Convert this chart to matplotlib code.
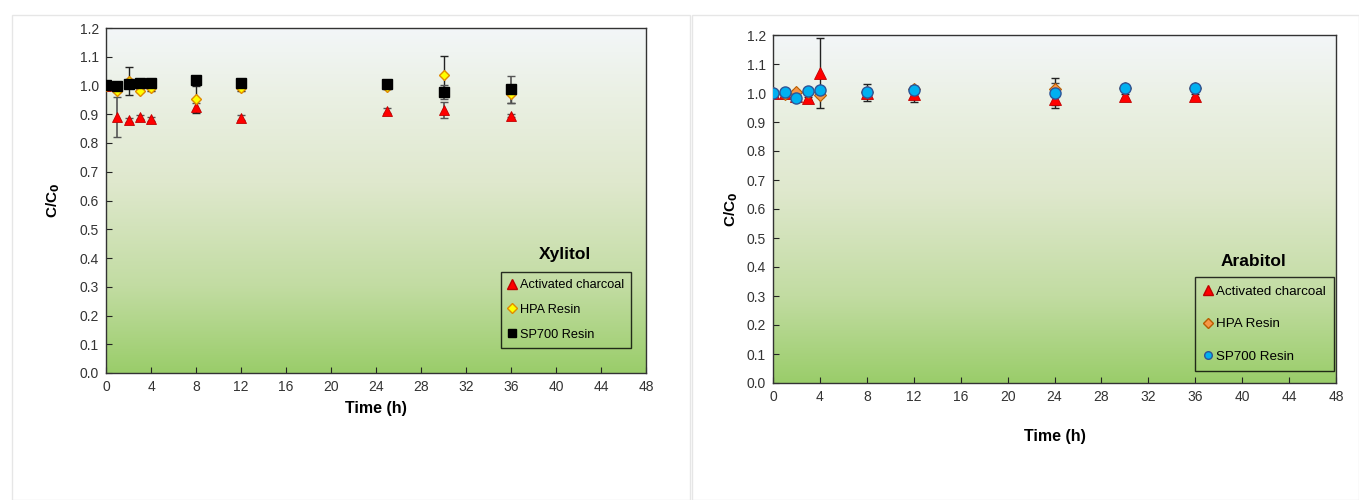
import matplotlib
matplotlib.use("Agg")
import matplotlib.pyplot as plt
import numpy as np
from matplotlib.colors import LinearSegmentedColormap
from matplotlib.patches import Rectangle
from matplotlib.lines import Line2D

plt.rcParams['font.family'] = ['Liberation Sans', 'DejaVu Sans']

# ---------------- Data ----------------
# Xylitol
xy_t_ac = [0, 1, 2, 3, 4, 8, 12, 25, 30, 36]
xy_ac = [1.0, 0.89, 0.88, 0.89, 0.883, 0.925, 0.888, 0.913, 0.915, 0.895]
xy_ac_err = [0.005, 0.07, 0.008, 0.006, 0.006, 0.015, 0.008, 0.008, 0.027, 0.006]
xy_t_hpa = [0, 1, 2, 3, 4, 8, 12, 25, 30, 36]
xy_hpa = [1.0, 0.982, 1.015, 0.982, 0.99, 0.952, 0.992, 0.995, 1.036, 0.969]
xy_hpa_err = [0.004, 0.005, 0.048, 0.006, 0.008, 0.047, 0.01, 0.006, 0.065, 0.03]
xy_t_sp = [0, 1, 2, 3, 4, 8, 12, 25, 30, 36]
xy_sp = [1.002, 0.997, 1.004, 1.008, 1.01, 1.02, 1.008, 1.004, 0.978, 0.987]
xy_sp_err = [0.003, 0.004, 0.005, 0.004, 0.004, 0.005, 0.005, 0.004, 0.025, 0.047]

# Arabitol
ar_t_ac = [0, 1, 2, 3, 4, 8, 12, 24, 30, 36]
ar_ac = [1.0, 1.0, 0.99, 0.982, 1.068, 1.0, 0.997, 0.978, 0.99, 0.991]
ar_ac_err = [0.004, 0.004, 0.008, 0.005, 0.12, 0.01, 0.028, 0.02, 0.006, 0.006]
ar_t_hpa = [0, 1, 2, 3, 4, 8, 12, 24, 30, 36]
ar_hpa = [1.0, 0.997, 1.004, 1.004, 0.993, 1.005, 1.015, 1.013, 1.017, 1.016]
ar_hpa_err = [0.004, 0.004, 0.006, 0.004, 0.006, 0.01, 0.01, 0.02, 0.005, 0.005]
ar_t_sp = [0, 1, 2, 3, 4, 8, 12, 24, 30, 36]
ar_sp = [1.001, 1.004, 0.984, 1.007, 1.009, 1.002, 1.009, 1.0, 1.016, 1.018]
ar_sp_err = [0.004, 0.004, 0.008, 0.004, 0.006, 0.03, 0.012, 0.053, 0.005, 0.005]

labels = ["Activated charcoal", "HPA Resin", "SP700 Resin"]
xticks = list(range(0, 49, 4))
yticks = [round(0.1 * i, 1) for i in range(13)]

# ---------------- Figure ----------------
fig = plt.figure(figsize=(13.59, 5.0), dpi=100)
W, H = 1359, 500

# panel frames
for (x0, x1) in [(12, 690), (692, 1359)]:
    fig.patches.append(Rectangle((x0 / W, 0), (x1 - x0) / W, (H - 15) / H,
                                 transform=fig.transFigure, fill=False,
                                 edgecolor='#e6e6e6', linewidth=1.0))

cmap = LinearSegmentedColormap.from_list(
    "bg", [(0.0, '#9acd6a'), (0.25, '#c2dca2'), (0.55, '#dfe8cd'), (0.8, '#eaf0e3'), (1.0, '#f3f6f8')])


def make_axes(rect):
    ax = fig.add_axes(rect)
    grad = np.linspace(0, 1, 256).reshape(-1, 1)
    ax.imshow(grad, aspect='auto', cmap=cmap, origin='lower',
              extent=[0, 1, 0, 1], transform=ax.transAxes, zorder=0)
    ax.set_xlim(0, 48)
    ax.set_ylim(0, 1.2)
    ax.set_xticks(xticks)
    ax.set_yticks(yticks)
    ax.set_yticklabels([f"{v:.1f}" for v in yticks])
    ax.tick_params(direction='in', length=4, width=0.8, labelsize=10,
                   colors='#222222', labelcolor='#333333', pad=5)
    for s in ax.spines.values():
        s.set_color('#333333')
        s.set_linewidth(1.0)
    return ax


def px_rect(x0, x1, ytop, ybot):
    return [x0 / W, 1 - ybot / H, (x1 - x0) / W, (ybot - ytop) / H]


# ---- Xylitol ----
ax1 = make_axes(px_rect(106, 646, 28, 373))
ax1.errorbar(xy_t_ac, xy_ac, yerr=xy_ac_err, fmt='none', ecolor='#555555',
             elinewidth=1.2, capsize=3, capthick=1, zorder=2)
ax1.errorbar(xy_t_hpa, xy_hpa, yerr=xy_hpa_err, fmt='none', ecolor='#222222',
             elinewidth=1.0, capsize=3, capthick=1, zorder=2)
ax1.errorbar(xy_t_sp, xy_sp, yerr=xy_sp_err, fmt='none', ecolor='#555555',
             elinewidth=1.2, capsize=3, capthick=1, zorder=2)
ax1.plot(xy_t_ac, xy_ac, '^', color='#ff0000', mec='#c00000', ms=7.5, mew=0.6, zorder=3)
ax1.plot(xy_t_hpa, xy_hpa, 'D', color='#ffff00', mec='#e08a00', ms=5.5, mew=1.0, zorder=4)
ax1.plot(xy_t_sp, xy_sp, 's', color='#000000', mec='#000000', ms=7.5, zorder=5)
ax1.set_ylabel("C/C$_\\mathbf{0}$", fontsize=11, fontweight='bold', labelpad=13)
ax1.set_xlabel("Time (h)", fontsize=11.5, fontweight='bold', labelpad=5)

h1 = [Line2D([], [], ls='none', marker='^', color='#ff0000', mec='#c00000', ms=6.5),
      Line2D([], [], ls='none', marker='D', color='#ffff00', mec='#e08a00', ms=5, mew=1.0),
      Line2D([], [], ls='none', marker='s', color='#000000', ms=5.5)]
leg1 = ax1.legend(h1, labels, loc='upper left',
                  bbox_to_anchor=((501 - 106) / 540, (373 - 272) / 345),
                  frameon=True, fancybox=False, edgecolor='#000000', facecolor='none',
                  fontsize=9.2, handlelength=0.6, handletextpad=0.3, labelspacing=1.0,
                  borderpad=0.55, borderaxespad=0)
leg1.get_frame().set_linewidth(1.0)
ax1.text((565 - 106) / 540, (373 - 254) / 345, "Xylitol", transform=ax1.transAxes,
         ha='center', va='center', fontsize=12.5, fontweight='bold')

# ---- Arabitol ----
ax2 = make_axes(px_rect(773, 1336, 35, 383))
ax2.errorbar(ar_t_ac, ar_ac, yerr=ar_ac_err, fmt='none', ecolor='#222222',
             elinewidth=1.0, capsize=3, capthick=1, zorder=2)
ax2.errorbar(ar_t_hpa, ar_hpa, yerr=ar_hpa_err, fmt='none', ecolor='#444444',
             elinewidth=1.0, capsize=3, capthick=1, zorder=2)
ax2.errorbar(ar_t_sp, ar_sp, yerr=ar_sp_err, fmt='none', ecolor='#222222',
             elinewidth=1.0, capsize=3, capthick=1, zorder=2)
ax2.plot(ar_t_ac, ar_ac, '^', color='#ff0000', mec='#c00000', ms=8, mew=0.6, zorder=3)
ax2.plot(ar_t_hpa, ar_hpa, 'D', color='#f79646', mec='#b85c00', ms=6, mew=0.8, zorder=4)
ax2.plot(ar_t_sp, ar_sp, 'o', color='#00b0f0', mec='#2f5597', ms=8, mew=1.0, zorder=5)
ax2.set_ylabel("C/C$_\\mathbf{0}$", fontsize=11, fontweight='bold', labelpad=5)
ax2.set_xlabel("Time (h)", fontsize=11.5, fontweight='bold', labelpad=18)

h2 = [Line2D([], [], ls='none', marker='^', color='#ff0000', mec='#c00000', ms=6.5),
      Line2D([], [], ls='none', marker='D', color='#f79646', mec='#b85c00', ms=5),
      Line2D([], [], ls='none', marker='o', color='#00b0f0', mec='#2f5597', ms=5.5)]
leg2 = ax2.legend(h2, labels, loc='upper left',
                  bbox_to_anchor=((1195 - 773) / 563, (383 - 277) / 348),
                  frameon=True, fancybox=False, edgecolor='#000000', facecolor='none',
                  fontsize=9.6, handlelength=0.6, handletextpad=0.3, labelspacing=1.5,
                  borderpad=0.65, borderaxespad=0)
leg2.get_frame().set_linewidth(1.0)
ax2.text((1253 - 773) / 563, (383 - 262) / 348, "Arabitol", transform=ax2.transAxes,
         ha='center', va='center', fontsize=12.5, fontweight='bold')

fig.savefig("out.png", dpi=100, facecolor='white')
